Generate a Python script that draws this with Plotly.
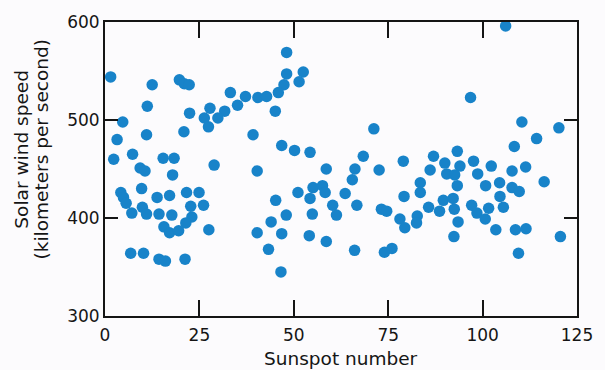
import plotly.graph_objects as go

# Sunspot number (x) and solar wind speed in km/s (y)
sunspot = [
    1.5, 12.5, 19.7, 21.0, 22.3, 11.2, 4.7, 22.4, 33.2, 37.2,
    40.5, 42.8, 27.8, 35.1, 31.7, 29.9, 26.3, 27.4, 20.9, 11.0,
    39.2, 3.2, 7.3, 2.3, 15.4, 18.3, 9.3, 10.6, 28.9, 40.3,
    48.1, 48.1, 52.5, 47.4, 51.4, 45.9, 45.1, 71.2, 46.8, 50.2,
    54.3, 68.4, 79.0, 58.6, 66.2, 72.6, 106.1, 96.8, 110.4, 120.2,
    114.3, 108.4, 87.0, 93.3, 90.0, 94.0, 97.6, 102.3, 111.4, 107.8,
    86.1, 90.5, 92.6, 98.7, 83.5, 83.5, 93.3, 100.8, 104.5, 107.8,
    109.7, 116.3, 104.6, 85.7, 88.6, 89.6, 92.2, 92.5, 97.1, 98.5,
    100.7, 101.6, 105.5, 93.5, 82.7, 82.5, 92.4, 103.5, 108.7, 111.5,
    120.6, 109.5, 65.5, 51.1, 55.1, 57.6, 58.3, 54.3, 63.6, 60.3,
    61.3, 66.7, 45.2, 48.0, 54.9, 44.0, 46.8, 54.1, 58.6, 40.3,
    43.3, 66.1, 74.0, 76.0, 46.6, 79.2, 73.2, 74.6, 78.1, 79.4,
    17.9, 9.7, 4.2, 4.9, 5.6, 7.1, 9.9, 11.0, 13.8, 17.1,
    21.6, 24.9, 22.7, 26.1, 14.3, 17.7, 23.0, 21.4, 15.6, 17.1,
    19.5, 27.5, 6.8, 10.2, 14.3, 16.0, 21.2,
]
wind_speed = [
    544, 536, 541, 537, 536, 514, 498, 507, 528, 524,
    523, 524, 512, 515, 509, 502, 502, 493, 488, 485,
    485, 480, 465, 460, 461, 461, 451, 448, 454, 448,
    569, 547, 549, 536, 539, 528, 509, 491, 474, 469,
    467, 463, 458, 450, 450, 449, 596, 523, 498, 492,
    481, 473, 463, 468, 456, 453, 458, 453, 452, 448,
    449, 445, 444, 445, 436, 426, 433, 433, 436, 431,
    427, 437, 422, 411, 407, 418, 420, 409, 413, 405,
    399, 410, 411, 396, 402, 395, 381, 388, 388, 389,
    381, 364, 439, 426, 431, 433, 426, 420, 425, 413,
    403, 413, 418, 403, 404, 396, 384, 382, 376, 385,
    368, 367, 365, 369, 345, 422, 409, 407, 399, 390,
    444, 430, 426, 421, 415, 405, 411, 404, 421, 423,
    426, 426, 412, 413, 404, 403, 401, 395, 391, 385,
    387, 388, 364, 364, 358, 356, 358,
]
x_ticks = [0, 25, 50, 75, 100, 125]
y_ticks = [300, 400, 500, 600]

FONT = "DejaVu Sans"
INK = "#151515"

fig = go.Figure(
    go.Scatter(
        x=sunspot, y=wind_speed, mode="markers",
        marker=dict(size=11.5, color="#1883c9", line=dict(width=0)),
        hoverinfo="skip",
    )
)

axis_common = dict(
    showline=True, linecolor=INK, linewidth=1.8, mirror="ticks",
    ticks="inside", tickcolor=INK, tickwidth=1.6,
    showgrid=False, zeroline=False,
    tickfont=dict(family=FONT, size=17, color="#151515"),
)

fig.update_xaxes(range=[0, 125], tickvals=x_ticks, ticktext=[str(v) for v in x_ticks],
                 ticklen=16, ticklabelstandoff=3, **axis_common)
fig.update_yaxes(range=[300, 600], tickvals=y_ticks, ticktext=[str(v) for v in y_ticks],
                 ticklen=13, **axis_common)

title_font = dict(family=FONT, size=18.5, color="#151515")
fig.update_layout(
    width=605, height=370,
    margin=dict(l=105, r=18, t=18, b=54),
    paper_bgcolor="#fcfbfd", plot_bgcolor="#fcfbfd",
    showlegend=False,
    annotations=[
        dict(text="Sunspot number", xref="paper", yref="paper", x=0.5, y=-0.145,
             xanchor="center", yanchor="middle", showarrow=False, font=title_font),
        dict(text="Solar wind speed", xref="paper", yref="paper", x=-0.176, y=0.569,
             xanchor="center", yanchor="middle", textangle=-90, showarrow=False, font=title_font),
        dict(text="(kilometers per second)", xref="paper", yref="paper", x=-0.134, y=0.569,
             xanchor="center", yanchor="middle", textangle=-90, showarrow=False, font=title_font),
    ],
)

fig.write_html("out.html")
